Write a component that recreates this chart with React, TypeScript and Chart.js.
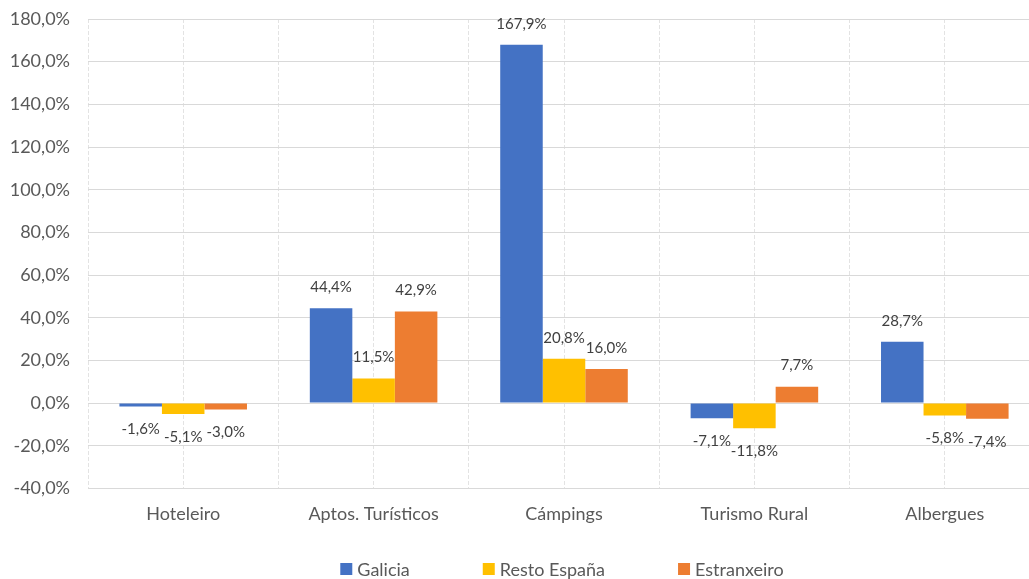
import React, { useEffect, useRef } from "react";
import { Chart, registerables } from "chart.js";

Chart.register(...registerables);

const categories = ["Hoteleiro", "Aptos. Turísticos", "Cámpings", "Turismo Rural", "Albergues"];
const seriesNames = ["Galicia", "Resto España", "Estranxeiro"];
const galicia = [-1.6, 44.4, 167.9, -7.1, 28.7];
const restoEspana = [-5.1, 11.5, 20.8, -11.8, -5.8];
const estranxeiro = [-3.0, 42.9, 16.0, 7.7, -7.4];
const colors = ["#4472C4", "#FFC000", "#ED7D31"];
const yMin = -40;
const yMax = 180;
const yStep = 20;

const FONT = "Lato, 'Open Sans', sans-serif";
const fmt = (v: number) => v.toFixed(1).replace(".", ",") + "%";

const dataLabelPlugin = {
  id: "dataLabels",
  afterDatasetsDraw(chart: any) {
    const ctx = chart.ctx;
    ctx.save();
    ctx.font = `15px ${FONT}`;
    ctx.fillStyle = "#404040";
    ctx.textAlign = "center";
    ctx.textBaseline = "middle";
    chart.data.datasets.forEach((ds: any, i: number) => {
      const meta = chart.getDatasetMeta(i);
      meta.data.forEach((el: any, j: number) => {
        const v = ds.data[j];
        const y = v >= 0 ? el.y - 21 : el.y + 23;
        ctx.fillText(fmt(v), el.x, y);
      });
    });
    ctx.restore();
  },
};

const legendPlugin = {
  id: "customLegend",
  afterDraw(chart: any) {
    const ctx = chart.ctx;
    ctx.save();
    ctx.font = `18px ${FONT}`;
    ctx.textBaseline = "middle";
    ctx.textAlign = "left";
    const box = 12;
    const textGap = 5;
    const itemGap = 73;
    const widths = chart.data.datasets.map((d: any) => box + textGap + ctx.measureText(d.label).width);
    const total = widths.reduce((a: number, b: number) => a + b, 0) + itemGap * (widths.length - 1);
    const cx = (chart.chartArea.left + chart.chartArea.right) / 2 - 2;
    let x = cx - total / 2;
    const y = 569;
    chart.data.datasets.forEach((d: any, i: number) => {
      ctx.fillStyle = d.backgroundColor;
      ctx.fillRect(x, y - box / 2, box, box);
      ctx.fillStyle = "#595959";
      ctx.fillText(d.label, x + box + textGap, y + 1);
      x += widths[i] + itemGap;
    });
    ctx.restore();
  },
};

export default function App() {
  const ref = useRef<HTMLCanvasElement>(null);
  useEffect(() => {
    if (!ref.current) return;
    const chart = new Chart(ref.current, {
      type: "bar",
      data: {
        labels: categories,
        datasets: [galicia, restoEspana, estranxeiro].map((d, i) => ({
          label: seriesNames[i],
          data: d,
          backgroundColor: colors[i],
          borderWidth: 0,
          categoryPercentage: 0.67,
          barPercentage: 1,
          xAxisID: "x",
        })),
      },
      options: {
        responsive: false,
        animation: false,
        layout: { padding: { left: 0, right: 8, top: 19, bottom: 39 } },
        plugins: {
          legend: { display: false },
          tooltip: { enabled: false },
        },
        scales: {
          x: {
            type: "category",
            position: "bottom",
            grid: { color: "#e3e3e3", lineWidth: 1, drawTicks: false, offset: true },
            border: { display: false, dash: [4, 2] },
            ticks: { color: "#595959", font: { family: FONT, size: 18 }, padding: 15 },
          },
          x2: {
            type: "category",
            position: "top",
            labels: categories,
            offset: true,
            grid: { color: "#e3e3e3", lineWidth: 1, drawTicks: false, offset: false },
            border: { display: false, dash: [4, 2] },
            ticks: { display: false, padding: 0 },
            afterFit: (scale: any) => {
              scale.height = 0;
            },
          },
          y: {
            min: yMin,
            max: yMax,
            grid: {
              color: "#d9d9d9",
              lineWidth: 1,
              drawTicks: true,
              tickLength: 18,
              tickColor: "rgba(0,0,0,0)",
            },
            border: { display: false },
            ticks: {
              stepSize: yStep,
              color: "#595959",
              font: { family: FONT, size: 18 },
              padding: 0,
              callback: (v: any) => fmt(Number(v)),
            },
            afterFit: (scale: any) => {
              scale.width = 88;
            },
          },
        },
      },
      plugins: [dataLabelPlugin, legendPlugin],
    });
    return () => chart.destroy();
  }, []);
  return (
    <div style={{ position: "fixed", left: 0, top: 0, width: 1029, height: 579, overflow: "hidden", background: "#fff" }}>
      <canvas ref={ref} width={1048} height={579} style={{ width: 1048, height: 579, display: "block" }} />
    </div>
  );
}
